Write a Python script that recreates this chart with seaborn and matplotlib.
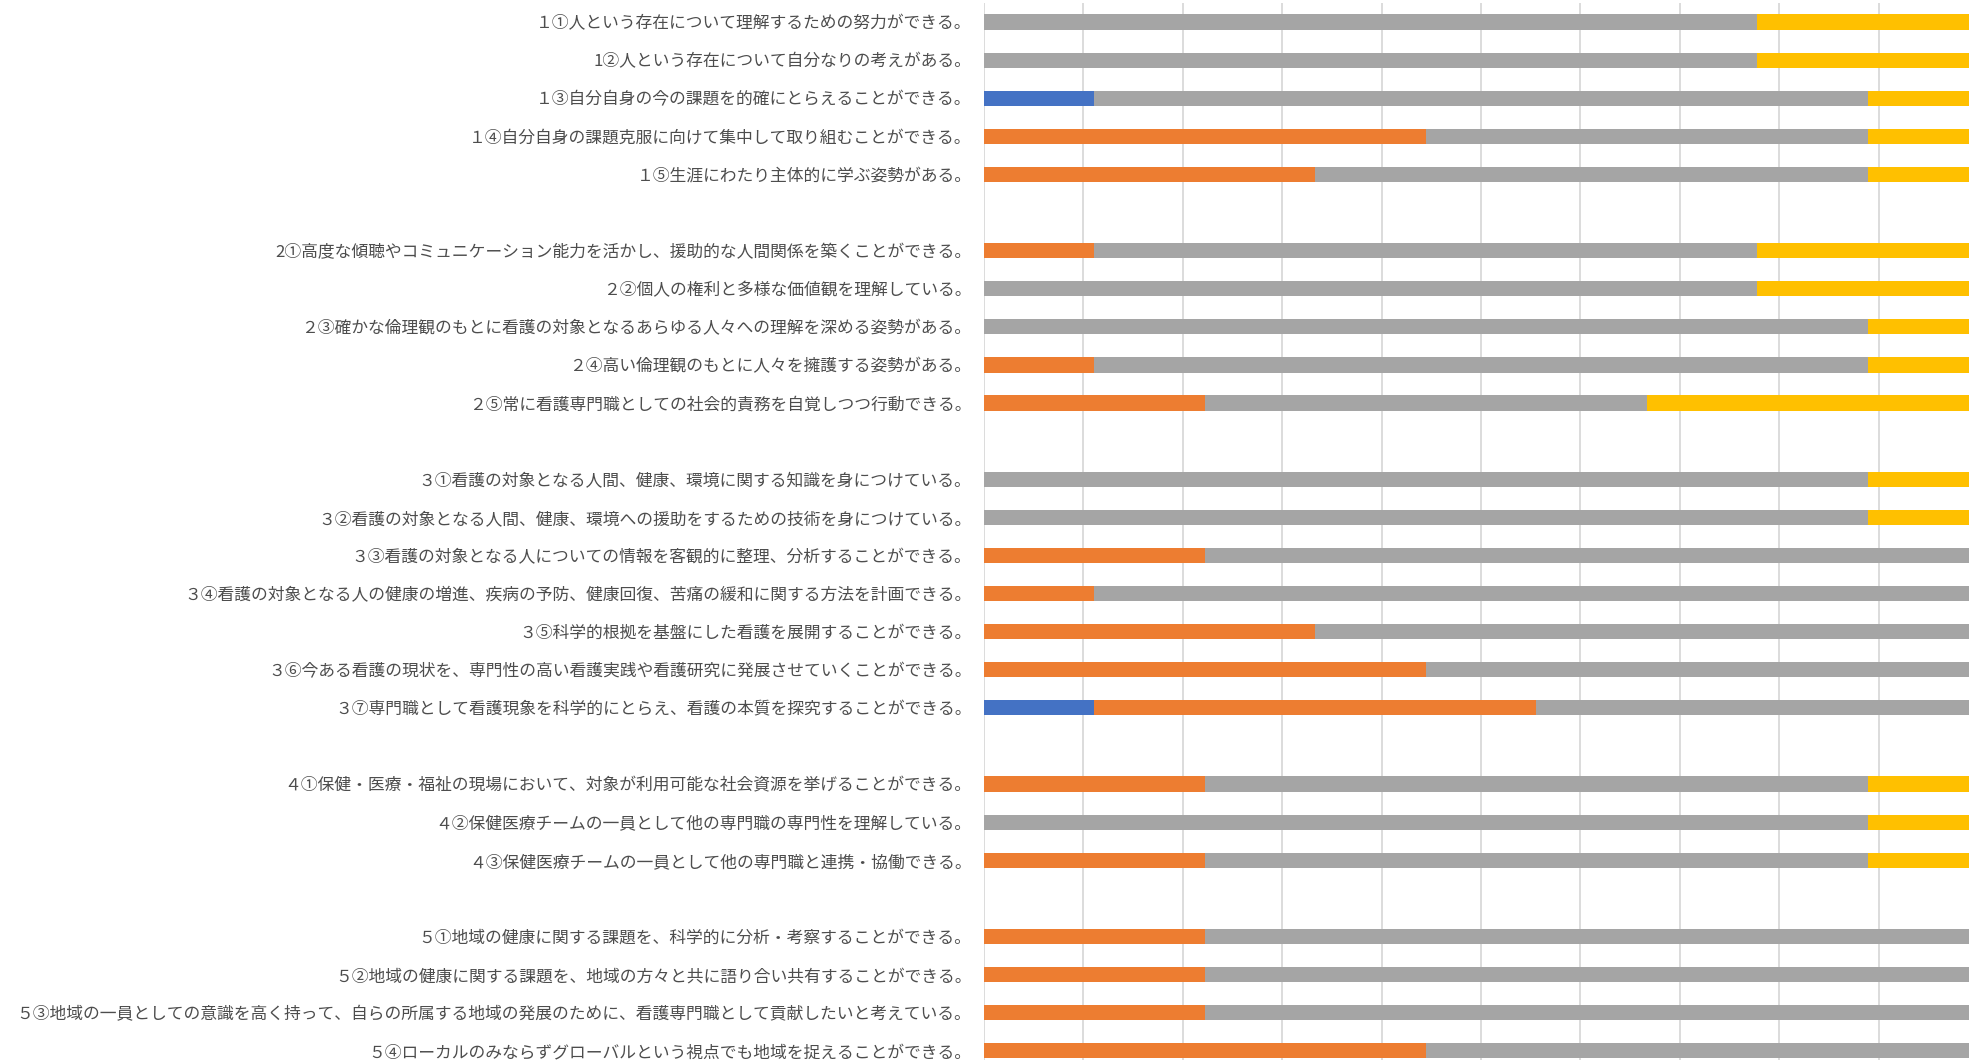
"""Recreación del gráfico de barras apiladas (autoevaluación por ítem, n=9)."""

import matplotlib

matplotlib.use("Agg")
import matplotlib.pyplot as plt
import numpy as np
import pandas as pd
import seaborn as sns

# Ítems por grupo (etiquetas del eje Y, de arriba hacia abajo)
group1_items = [
    "１①人という存在について理解するための努力ができる。",
    "1②人という存在について自分なりの考えがある。",
    "１③自分自身の今の課題を的確にとらえることができる。",
    "１④自分自身の課題克服に向けて集中して取り組むことができる。",
    "１⑤生涯にわたり主体的に学ぶ姿勢がある。",
]
group2_items = [
    "2①高度な傾聴やコミュニケーション能力を活かし、援助的な人間関係を築くことができる。",
    "２②個人の権利と多様な価値観を理解している。",
    "２③確かな倫理観のもとに看護の対象となるあらゆる人々への理解を深める姿勢がある。",
    "２④高い倫理観のもとに人々を擁護する姿勢がある。",
    "２⑤常に看護専門職としての社会的責務を自覚しつつ行動できる。",
]
group3_items = [
    "３①看護の対象となる人間、健康、環境に関する知識を身につけている。",
    "３②看護の対象となる人間、健康、環境への援助をするための技術を身につけている。",
    "３③看護の対象となる人についての情報を客観的に整理、分析することができる。",
    "３④看護の対象となる人の健康の増進、疾病の予防、健康回復、苦痛の緩和に関する方法を計画できる。",
    "３⑤科学的根拠を基盤にした看護を展開することができる。",
    "３⑥今ある看護の現状を、専門性の高い看護実践や看護研究に発展させていくことができる。",
    "３⑦専門職として看護現象を科学的にとらえ、看護の本質を探究することができる。",
]
group4_items = [
    "４①保健・医療・福祉の現場において、対象が利用可能な社会資源を挙げることができる。",
    "４②保健医療チームの一員として他の専門職の専門性を理解している。",
    "４③保健医療チームの一員として他の専門職と連携・協働できる。",
]
group5_items = [
    "５①地域の健康に関する課題を、科学的に分析・考察することができる。",
    "５②地域の健康に関する課題を、地域の方々と共に語り合い共有することができる。",
    "５③地域の一員としての意識を高く持って、自らの所属する地域の発展のために、看護専門職として貢献したいと考えている。",
    "５④ローカルのみならずグローバルという視点でも地域を捉えることができる。",
]

# Número de respuestas por nivel (4 niveles, total 9 por ítem)
level1 = [0, 0, 1, 0, 0,  0, 0, 0, 0, 0,  0, 0, 0, 0, 0, 0, 1,  0, 0, 0,  0, 0, 0, 0]
level2 = [0, 0, 0, 4, 3,  1, 0, 0, 1, 2,  0, 0, 2, 1, 3, 4, 4,  2, 0, 2,  2, 2, 2, 4]
level3 = [7, 7, 7, 4, 5,  6, 7, 8, 7, 4,  8, 8, 7, 8, 6, 5, 4,  6, 8, 6,  7, 7, 7, 5]
level4 = [2, 2, 1, 1, 1,  2, 2, 1, 1, 3,  1, 1, 0, 0, 0, 0, 0,  1, 1, 1,  0, 0, 0, 0]

level_names = ["level1", "level2", "level3", "level4"]
level_colors = ["#4472C4", "#ED7D31", "#A5A5A5", "#FFC000"]

groups = [group1_items, group2_items, group3_items, group4_items, group5_items]
items = [label for g in groups for label in g]

# Orden de categorías con un hueco vacío entre grupos
slots = []
for i, g in enumerate(groups):
    slots.extend(g)
    if i < len(groups) - 1:
        slots.append(" " * (i + 1))

counts = pd.DataFrame(
    {"item": items, "level1": level1, "level2": level2, "level3": level3, "level4": level4}
)
totals = counts[level_names].sum(axis=1)
shares = counts[level_names].div(totals, axis=0)
cum = shares.cumsum(axis=1)
cum["item"] = counts["item"]

sns.set_theme(style="white")
plt.rcParams["font.family"] = ["Noto Sans CJK JP", "DejaVu Sans"]

W, H = 1969, 1060
fig = plt.figure(figsize=(W / 100, H / 100), dpi=100)
slot_px = 38.1
top_px = 3
left_px, right_px = 984, 1978
ax = fig.add_axes(
    [
        left_px / W,
        1 - (top_px + slot_px * len(slots)) / H,
        (right_px - left_px) / W,
        slot_px * len(slots) / H,
    ]
)

# Barras apiladas: se dibuja el acumulado de mayor a menor, superpuesto
for name, color in reversed(list(zip(level_names, level_colors))):
    sns.barplot(
        data=cum,
        x=name,
        y="item",
        order=slots,
        orient="y",
        color=color,
        saturation=1,
        width=0.4,
        linewidth=0,
        errorbar=None,
        ax=ax,
        zorder=3,
    )

ax.set_xlim(0, 1)
ax.set_ylim(len(slots) - 0.5, -0.5)
ax.set_xticks(np.arange(0, 1.01, 0.1))
ax.set_xticklabels([])
ax.grid(axis="x", color="#D9D9D9", linewidth=1.3)
ax.grid(axis="y", visible=False)
ax.set_axisbelow(True)
for spine in ax.spines.values():
    spine.set_visible(False)
ax.tick_params(axis="x", length=0)
ax.tick_params(axis="y", length=0, pad=9, labelsize=12.1, labelcolor="#4D4D4D")
ax.set_xlabel("")
ax.set_ylabel("")

fig.savefig("out.png", dpi=100)
plt.close(fig)
